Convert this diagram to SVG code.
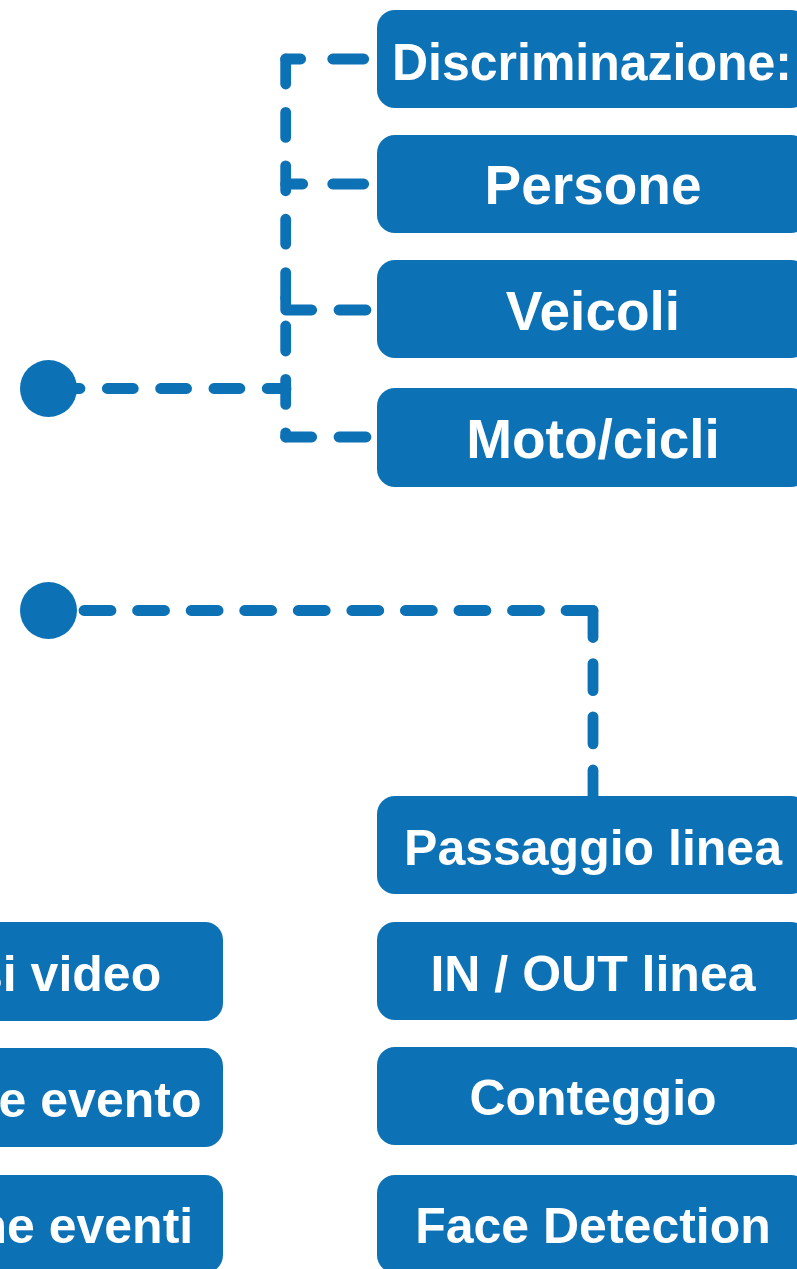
<svg xmlns="http://www.w3.org/2000/svg" width="797" height="1269" viewBox="0 0 797 1269">
  <defs>
    <style>
      .box { fill: #0D71B6; }
      .lbl { fill: #FFFFFF; font-family: "Liberation Sans", Arial, sans-serif; font-weight: bold; text-anchor: middle; }
      .big { font-size: 55px; }
      .mid { font-size: 50px; }
      .con { fill: none; stroke: #0D71B6; stroke-width: 10.8; stroke-linecap: round; stroke-linejoin: round; }
      .dot { fill: #0D71B6; }
    </style>
  </defs>
  <rect width="797" height="1269" fill="#FFFFFF"/>

  <g id="connectors">
    <path class="con" d="M54,388.5 H286" stroke-dasharray="26 27.3"/>
    <path class="con" d="M285.7,59 V437" stroke-dasharray="25 28.4"/>
    <path class="con" d="M285.7,59 H364" stroke-dasharray="15 32 31 100"/>
    <path class="con" d="M285.7,184 H364" stroke-dasharray="17 30 31 100"/>
    <path class="con" d="M285.7,298 V310 H366" stroke-dasharray="38 27.3 27 100"/>
    <path class="con" d="M285.7,437 H366" stroke-dasharray="26 27.3 27 100"/>
    <path class="con" d="M84,610.5 H593" stroke-dasharray="27 26.56"/>
    <path class="con" d="M593,610.5 V797" stroke-dasharray="27 26.17"/>
  </g>

  <g id="dot-1"><circle class="dot" cx="48.5" cy="388.5" r="28.5"/></g>
  <g id="dot-2"><circle class="dot" cx="48.5" cy="610.5" r="28.5"/></g>

  <g id="node-discriminazione">
    <rect class="box" x="377" y="10" width="432" height="98" rx="18"/>
    <text class="lbl" x="592" y="80" font-size="52" textLength="400" lengthAdjust="spacingAndGlyphs">Discriminazione:</text>
  </g>
  <g id="node-persone">
    <rect class="box" x="377" y="135" width="432" height="98" rx="18"/>
    <text class="lbl big" x="593" y="204">Persone</text>
  </g>
  <g id="node-veicoli">
    <rect class="box" x="377" y="260" width="432" height="98" rx="18"/>
    <text class="lbl big" x="593" y="330">Veicoli</text>
  </g>
  <g id="node-moto">
    <rect class="box" x="377" y="388" width="432" height="99" rx="18"/>
    <text class="lbl big" x="593" y="458">Moto/cicli</text>
  </g>

  <g id="node-passaggio">
    <rect class="box" x="377" y="796" width="432" height="98" rx="18"/>
    <text class="lbl mid" x="593" y="865">Passaggio linea</text>
  </g>
  <g id="node-inout">
    <rect class="box" x="377" y="922" width="432" height="98" rx="18"/>
    <text class="lbl mid" x="593" y="991">IN / OUT linea</text>
  </g>
  <g id="node-conteggio">
    <rect class="box" x="377" y="1047" width="432" height="98" rx="18"/>
    <text class="lbl mid" x="593" y="1115">Conteggio</text>
  </g>
  <g id="node-face">
    <rect class="box" x="377" y="1175" width="432" height="98" rx="18"/>
    <text class="lbl mid" x="593" y="1243">Face Detection</text>
  </g>

  <g id="node-analisi">
    <rect class="box" x="-209" y="922" width="432" height="99" rx="18"/>
    <text class="lbl mid" x="7" y="991">Analisi video</text>
  </g>
  <g id="node-notifiche">
    <rect class="box" x="-209" y="1048" width="432" height="99" rx="18"/>
    <text class="lbl mid" x="7" y="1117">Notifiche evento</text>
  </g>
  <g id="node-gestione">
    <rect class="box" x="-209" y="1175" width="432" height="98" rx="18"/>
    <text class="lbl mid" x="7" y="1243">Gestione eventi</text>
  </g>
</svg>
